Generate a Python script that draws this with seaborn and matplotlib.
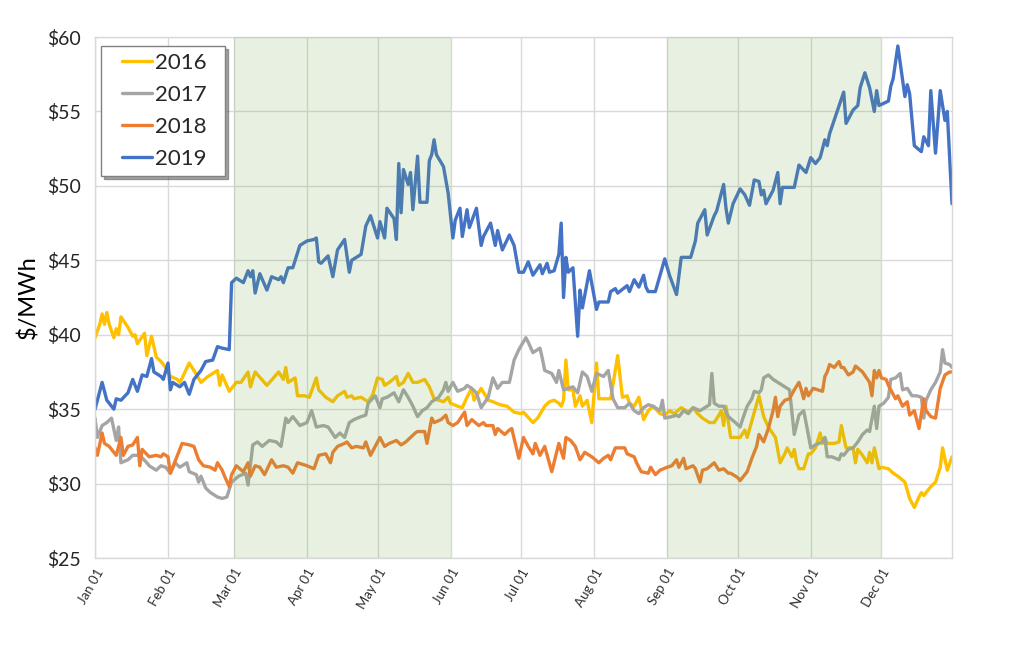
import pandas as pd
import numpy as np
import matplotlib
matplotlib.use("Agg")
import matplotlib.pyplot as plt
import matplotlib.dates as mdates
import seaborn as sns

# ---------------- data ----------------
years = ["2016", "2017", "2018", "2019"]
colors = ["#FFC000", "#A5A5A5", "#ED7D31", "#4472C4"]

days_2016 = [0, 2, 3, 4, 5, 6, 8, 9, 10, 11, 14, 16, 17, 18, 21, 22, 24, 26, 28, 30, 32, 35, 36, 37, 40, 42, 45, 48, 52, 53, 54, 57, 60, 62, 65, 66, 68, 73, 78, 80, 81, 82, 85, 86, 89, 91, 94, 95, 98, 101, 103, 106, 107, 109, 110, 113, 116, 118, 120, 122, 123, 125, 128, 129, 131, 133, 135, 137, 140, 142, 144, 146, 148, 150, 151, 154, 156, 158, 160, 161, 164, 167, 169, 172, 175, 178, 181, 182, 186, 188, 191, 193, 195, 197, 198, 199, 200, 201, 203, 204, 206, 207, 209, 211, 213, 214, 219, 222, 224, 226, 227, 229, 231, 233, 235, 237, 240, 242, 244, 246, 249, 252, 254, 256, 258, 261, 263, 265, 266, 267, 268, 270, 274, 276, 277, 282, 284, 286, 289, 291, 293, 294, 296, 297, 298, 299, 301, 303, 304, 306, 308, 309, 310, 311, 314, 316, 317, 319, 322, 323, 324, 326, 328, 329, 330, 331, 333, 334, 337, 339, 341, 344, 346, 348, 350, 351, 352, 354, 355, 357, 359, 360, 362, 364]
price_2016 = [39.8, 40.7, 41.4, 40.7, 41.5, 40.7, 39.8, 40.4, 40.0, 41.2, 40.5, 39.9, 40.0, 39.4, 40.1, 38.6, 39.9, 38.5, 38.2, 37.8, 37.2, 37.0, 36.8, 37.1, 38.1, 37.6, 36.8, 37.2, 37.6, 36.6, 37.3, 36.2, 36.8, 36.8, 37.5, 36.5, 37.5, 36.6, 37.5, 37.0, 37.8, 36.8, 37.1, 35.9, 35.9, 35.8, 37.1, 36.3, 35.8, 35.5, 35.9, 36.2, 35.8, 35.9, 35.7, 35.8, 35.5, 36.0, 37.1, 37.0, 36.6, 36.8, 37.2, 36.6, 36.8, 37.4, 36.8, 36.8, 37.0, 36.5, 35.7, 35.6, 35.5, 35.8, 35.4, 35.2, 35.1, 35.8, 36.4, 35.6, 36.4, 35.6, 35.5, 35.3, 35.2, 34.8, 34.7, 34.8, 34.1, 34.4, 35.2, 35.5, 35.6, 35.4, 35.2, 35.6, 38.3, 36.3, 36.3, 35.2, 35.9, 35.2, 35.6, 34.1, 38.1, 35.7, 35.7, 38.6, 35.8, 35.9, 35.4, 35.2, 35.8, 34.3, 34.9, 35.2, 34.7, 34.6, 34.9, 34.7, 35.1, 34.8, 35.1, 34.7, 34.4, 34.1, 34.1, 34.6, 34.9, 33.9, 35.2, 33.1, 33.1, 33.6, 33.1, 35.9, 34.5, 33.8, 33.1, 31.4, 32.0, 32.4, 31.8, 32.3, 31.4, 31.0, 31.0, 32.0, 32.0, 32.4, 33.4, 32.7, 33.1, 32.7, 32.7, 32.8, 33.9, 32.4, 32.4, 31.4, 32.3, 31.9, 31.4, 32.1, 31.4, 32.4, 31.0, 31.1, 31.0, 30.7, 30.5, 30.1, 29.0, 28.4, 29.1, 29.4, 29.2, 29.6, 29.8, 30.1, 31.1, 32.4, 30.9, 31.8]

days_2017 = [0, 1, 3, 5, 7, 9, 10, 11, 14, 16, 19, 22, 23, 26, 28, 30, 32, 34, 36, 39, 40, 43, 44, 45, 47, 49, 52, 54, 56, 58, 61, 64, 65, 67, 69, 71, 74, 77, 79, 81, 82, 84, 87, 90, 92, 94, 97, 99, 102, 104, 106, 108, 110, 113, 115, 116, 119, 121, 122, 124, 127, 129, 131, 133, 135, 137, 139, 141, 143, 146, 148, 149, 150, 152, 154, 157, 158, 160, 162, 164, 167, 169, 171, 173, 176, 178, 180, 183, 184, 186, 189, 190, 191, 194, 196, 197, 199, 201, 203, 205, 207, 209, 211, 213, 216, 218, 220, 222, 225, 227, 229, 231, 233, 235, 237, 240, 241, 242, 245, 247, 248, 250, 252, 254, 257, 259, 261, 262, 263, 265, 267, 269, 272, 274, 275, 277, 279, 280, 282, 283, 284, 286, 288, 290, 292, 295, 297, 299, 301, 302, 304, 306, 309, 310, 311, 313, 316, 317, 318, 320, 322, 324, 326, 328, 329, 331, 332, 333, 335, 337, 338, 340, 342, 343, 345, 347, 349, 351, 352, 353, 355, 357, 359, 360, 361, 363, 364]
price_2017 = [34.4, 33.1, 33.9, 34.1, 34.4, 32.9, 33.8, 31.4, 31.6, 31.9, 31.9, 31.4, 31.2, 30.9, 31.2, 31.1, 30.7, 31.4, 31.1, 31.4, 30.8, 30.6, 30.1, 30.5, 29.7, 29.4, 29.1, 29.0, 29.1, 30.1, 30.5, 30.7, 29.9, 32.6, 32.8, 32.5, 32.9, 32.8, 32.5, 34.4, 34.1, 34.5, 33.9, 34.1, 34.9, 33.8, 33.9, 33.8, 33.1, 33.4, 33.1, 34.1, 34.3, 34.5, 34.6, 35.4, 35.9, 35.1, 35.7, 35.8, 36.1, 35.5, 36.3, 35.8, 35.2, 34.5, 34.9, 35.1, 35.5, 35.8, 36.3, 36.8, 36.2, 36.8, 36.2, 36.4, 36.6, 36.4, 36.1, 35.1, 35.8, 37.1, 36.4, 36.8, 36.8, 38.3, 39.0, 39.8, 39.5, 38.8, 39.1, 38.4, 37.6, 37.4, 36.8, 37.6, 36.3, 36.4, 36.5, 36.1, 37.5, 37.2, 36.2, 37.4, 37.2, 37.6, 35.7, 35.1, 35.1, 35.4, 34.9, 34.7, 35.1, 35.3, 35.2, 34.9, 35.6, 34.4, 34.5, 34.6, 34.5, 34.9, 34.7, 35.1, 34.9, 35.1, 35.3, 37.4, 35.4, 35.2, 35.2, 34.5, 34.1, 33.8, 34.3, 35.2, 35.7, 36.2, 36.1, 36.3, 37.1, 37.3, 37.0, 36.8, 36.6, 36.3, 33.3, 34.6, 34.9, 34.1, 32.4, 32.6, 32.8, 33.1, 31.8, 31.8, 31.6, 32.0, 31.9, 32.3, 32.4, 32.8, 33.3, 33.6, 33.5, 35.2, 33.7, 35.2, 35.4, 35.8, 37.0, 37.1, 37.4, 36.3, 36.4, 35.9, 35.9, 35.8, 34.4, 35.6, 36.3, 36.8, 37.5, 39.0, 38.1, 38.0, 37.8]

days_2018 = [0, 1, 3, 4, 6, 9, 11, 12, 14, 16, 18, 19, 20, 23, 26, 28, 29, 31, 32, 35, 37, 40, 42, 44, 46, 49, 51, 52, 54, 55, 57, 58, 60, 63, 65, 66, 68, 70, 72, 75, 77, 80, 82, 84, 86, 90, 93, 95, 98, 100, 101, 103, 106, 107, 109, 111, 114, 115, 117, 119, 121, 123, 125, 128, 130, 132, 134, 136, 137, 140, 141, 143, 144, 147, 149, 150, 152, 154, 157, 158, 160, 163, 165, 166, 169, 170, 171, 174, 176, 177, 180, 182, 184, 186, 187, 189, 191, 194, 197, 199, 200, 202, 204, 206, 208, 211, 214, 216, 218, 219, 221, 225, 226, 229, 230, 232, 235, 236, 238, 240, 243, 245, 247, 248, 250, 251, 254, 255, 257, 258, 260, 263, 265, 267, 269, 270, 273, 274, 277, 279, 281, 282, 284, 286, 288, 289, 290, 291, 293, 295, 297, 299, 300, 301, 302, 303, 305, 307, 309, 310, 311, 312, 314, 315, 316, 317, 318, 320, 322, 323, 326, 329, 330, 331, 332, 333, 334, 336, 337, 340, 341, 343, 345, 346, 348, 350, 352, 353, 355, 357, 359, 361, 363, 364]
price_2018 = [32.4, 31.9, 33.4, 32.7, 32.5, 31.9, 33.1, 31.9, 32.5, 32.6, 33.1, 31.2, 32.3, 31.8, 31.9, 31.8, 32.0, 31.8, 30.7, 31.9, 32.7, 32.6, 32.5, 31.6, 31.2, 31.1, 30.9, 31.4, 30.9, 30.5, 29.8, 30.6, 31.2, 30.8, 31.4, 30.5, 31.2, 31.1, 30.6, 31.6, 31.1, 31.2, 31.1, 30.7, 31.4, 31.2, 31.0, 31.9, 32.0, 31.4, 32.1, 32.5, 32.7, 32.8, 32.4, 32.5, 32.4, 32.8, 31.9, 32.5, 33.1, 32.5, 32.7, 32.9, 32.6, 32.8, 33.1, 33.4, 33.5, 33.5, 32.7, 34.4, 34.1, 34.3, 34.6, 34.1, 33.9, 34.1, 34.8, 33.9, 34.3, 33.9, 34.1, 33.9, 33.9, 33.3, 33.7, 33.3, 33.6, 33.7, 31.7, 33.1, 32.5, 32.0, 32.7, 31.9, 32.5, 30.8, 32.7, 31.7, 33.1, 32.9, 32.5, 31.6, 32.1, 31.8, 31.4, 31.7, 31.9, 31.6, 32.4, 32.4, 32.0, 31.8, 31.4, 30.8, 30.7, 31.1, 30.6, 30.9, 31.1, 31.2, 31.6, 31.1, 31.7, 31.0, 31.2, 31.0, 30.1, 30.9, 31.0, 31.4, 30.9, 31.0, 30.7, 30.7, 30.4, 30.2, 30.8, 31.7, 32.5, 33.3, 32.8, 33.7, 34.9, 35.8, 34.5, 35.2, 35.6, 35.7, 36.3, 36.8, 36.3, 35.7, 36.4, 35.9, 36.4, 36.3, 36.2, 37.2, 37.5, 38.0, 37.8, 38.0, 38.2, 37.8, 37.8, 37.3, 37.5, 37.9, 37.5, 36.8, 35.9, 37.6, 37.1, 37.6, 37.1, 37.0, 36.6, 35.7, 35.9, 35.2, 35.5, 34.6, 34.9, 33.7, 35.7, 34.9, 34.5, 34.4, 36.4, 37.3, 37.5, 37.5]

days_2019 = [0, 3, 5, 8, 9, 11, 14, 16, 18, 20, 22, 24, 25, 28, 29, 31, 32, 33, 36, 38, 40, 42, 45, 47, 50, 52, 54, 57, 58, 60, 63, 65, 66, 67, 68, 70, 73, 75, 78, 79, 80, 82, 84, 87, 90, 93, 94, 95, 96, 99, 101, 103, 106, 108, 109, 112, 113, 115, 117, 120, 121, 123, 124, 127, 128, 129, 130, 131, 133, 134, 135, 137, 138, 141, 142, 143, 144, 145, 148, 150, 152, 153, 155, 156, 158, 159, 162, 164, 165, 168, 170, 171, 173, 176, 178, 180, 182, 184, 186, 189, 190, 192, 193, 195, 197, 198, 199, 200, 201, 203, 205, 206, 207, 210, 213, 214, 218, 219, 221, 222, 226, 227, 229, 231, 233, 234, 235, 238, 242, 244, 247, 249, 253, 255, 256, 259, 260, 263, 264, 267, 268, 269, 271, 274, 276, 278, 280, 282, 283, 284, 285, 288, 290, 291, 292, 297, 299, 302, 304, 306, 308, 310, 311, 312, 315, 318, 319, 322, 324, 325, 327, 329, 331, 332, 333, 337, 338, 339, 341, 344, 345, 346, 348, 351, 352, 354, 355, 357, 359, 361, 362, 364]
price_2019 = [35.0, 36.8, 35.6, 35.0, 35.7, 35.6, 36.1, 37.0, 36.2, 37.3, 37.2, 38.4, 37.5, 37.2, 37.0, 38.1, 36.3, 36.8, 36.5, 36.8, 36.0, 37.0, 37.6, 38.2, 38.3, 39.2, 39.1, 39.0, 43.5, 43.8, 43.5, 44.3, 43.9, 44.3, 42.8, 44.1, 43.0, 43.9, 43.7, 43.9, 43.5, 44.5, 44.5, 46.0, 46.3, 46.4, 46.5, 44.9, 44.8, 45.3, 43.9, 45.7, 46.4, 44.2, 45.0, 45.3, 45.4, 47.3, 48.0, 46.5, 47.6, 46.5, 48.5, 47.8, 46.4, 51.5, 48.2, 51.1, 50.1, 50.9, 48.4, 52.0, 48.9, 48.9, 51.7, 52.1, 53.1, 52.1, 51.3, 49.5, 46.5, 47.7, 48.5, 46.6, 48.4, 47.2, 48.5, 46.0, 46.6, 47.5, 46.0, 47.0, 45.7, 46.7, 46.0, 44.2, 44.2, 44.9, 44.0, 44.7, 44.1, 44.8, 44.2, 44.3, 45.4, 47.5, 42.5, 45.2, 44.2, 44.5, 39.9, 43.0, 41.8, 44.3, 41.7, 42.2, 42.2, 42.9, 43.1, 42.8, 43.3, 42.9, 43.7, 43.2, 44.0, 43.2, 42.9, 42.9, 45.1, 44.0, 42.7, 45.2, 45.2, 46.3, 47.5, 48.4, 46.7, 48.0, 48.3, 50.1, 48.5, 47.5, 48.8, 49.8, 49.4, 48.7, 50.4, 50.3, 49.4, 49.7, 48.8, 49.7, 50.9, 48.8, 49.9, 49.9, 51.4, 50.9, 51.9, 51.5, 51.9, 53.1, 52.7, 53.5, 54.9, 56.3, 54.2, 55.1, 55.4, 56.6, 57.6, 56.6, 55.0, 56.4, 55.4, 55.7, 56.7, 57.2, 59.4, 56.0, 56.8, 56.2, 52.7, 52.3, 53.3, 52.7, 56.4, 52.2, 56.4, 54.4, 55.0, 48.8]

month_labels = ["Jan 01", "Feb 01", "Mar 01", "Apr 01", "May 01", "Jun 01",
                "Jul 01", "Aug 01", "Sep 01", "Oct 01", "Nov 01", "Dec 01"]
y_ticks = [25, 30, 35, 40, 45, 50, 55, 60]
shoulder_periods = [("2019-03-01", "2019-06-01"), ("2019-09-01", "2019-12-01")]

# ---------------- build table ----------------
base = pd.Timestamp("2019-01-01")
frames = []
for yr, d, p in zip(years, [days_2016, days_2017, days_2018, days_2019],
                    [price_2016, price_2017, price_2018, price_2019]):
    frames.append(pd.DataFrame({
        "date": base + pd.to_timedelta(d, unit="D"),
        "price": p,
        "year": yr,
    }))
df = pd.concat(frames, ignore_index=True)

# ---------------- plot ----------------
sns.set_theme(style="white")
plt.rcParams["font.family"] = ["Lato", "DejaVu Sans"]

fig = plt.figure(figsize=(10.22, 6.5), dpi=100)
ax = fig.add_axes([0.093, 0.1415, 0.8385, 0.8015])

sns.lineplot(data=df, x="date", y="price", hue="year", palette=colors,
             hue_order=years, estimator=None, sort=False, linewidth=2.4,
             ax=ax, zorder=2)

for s, e in shoulder_periods:
    ax.axvspan(pd.Timestamp(s), pd.Timestamp(e), color="#70AD47",
               alpha=0.16, lw=0, zorder=3)

ax.set_xlim(pd.Timestamp("2019-01-01"), pd.Timestamp("2019-12-31"))
ax.set_ylim(25, 60)
ticks = pd.date_range("2019-01-01", periods=12, freq="MS")
ax.set_xticks(ticks)
ax.set_xticklabels(month_labels, rotation=60, ha="right",
                   rotation_mode="anchor", fontsize=9.5, color="#303030")
ax.set_yticks(y_ticks)
ax.set_yticklabels([f"${v}" for v in y_ticks], fontsize=14, color="#262626")
ax.tick_params(axis="x", length=3, color="#D9D9D9", pad=3)
ax.tick_params(axis="y", length=0, pad=10)

ax.grid(True, color="#D9D9D9", linewidth=1.0, zorder=0)
ax.set_axisbelow(True)
for sp in ax.spines.values():
    sp.set_color("#D9D9D9")
    sp.set_linewidth(1.0)

ax.set_xlabel("")
ax.set_ylabel("$/MWh", fontsize=17, color="#000000", labelpad=6)

handles, labels = ax.get_legend_handles_labels()
leg = ax.legend(handles, [l + "  " for l in labels], loc="upper left",
                bbox_to_anchor=(0.007, 0.983), fontsize=16,
                frameon=True, fancybox=False, shadow=True, handlelength=2.0,
                handletextpad=0.15, borderpad=0.3, labelspacing=0.55,
                borderaxespad=0, edgecolor="#808080", framealpha=1)
leg.set_zorder(10)
leg.get_frame().set_linewidth(1.0)
for line in leg.get_lines():
    line.set_linewidth(2.4)
    xd = np.asarray(line.get_xdata(), dtype=float)
    yd = np.asarray(line.get_ydata(), dtype=float)
    x0, x1 = xd.min(), xd.max()
    line.set_data(np.linspace(x0 + 0.33 * (x1 - x0), x1, len(yd)), yd)

fig.savefig("out.png", dpi=100, facecolor="white")
